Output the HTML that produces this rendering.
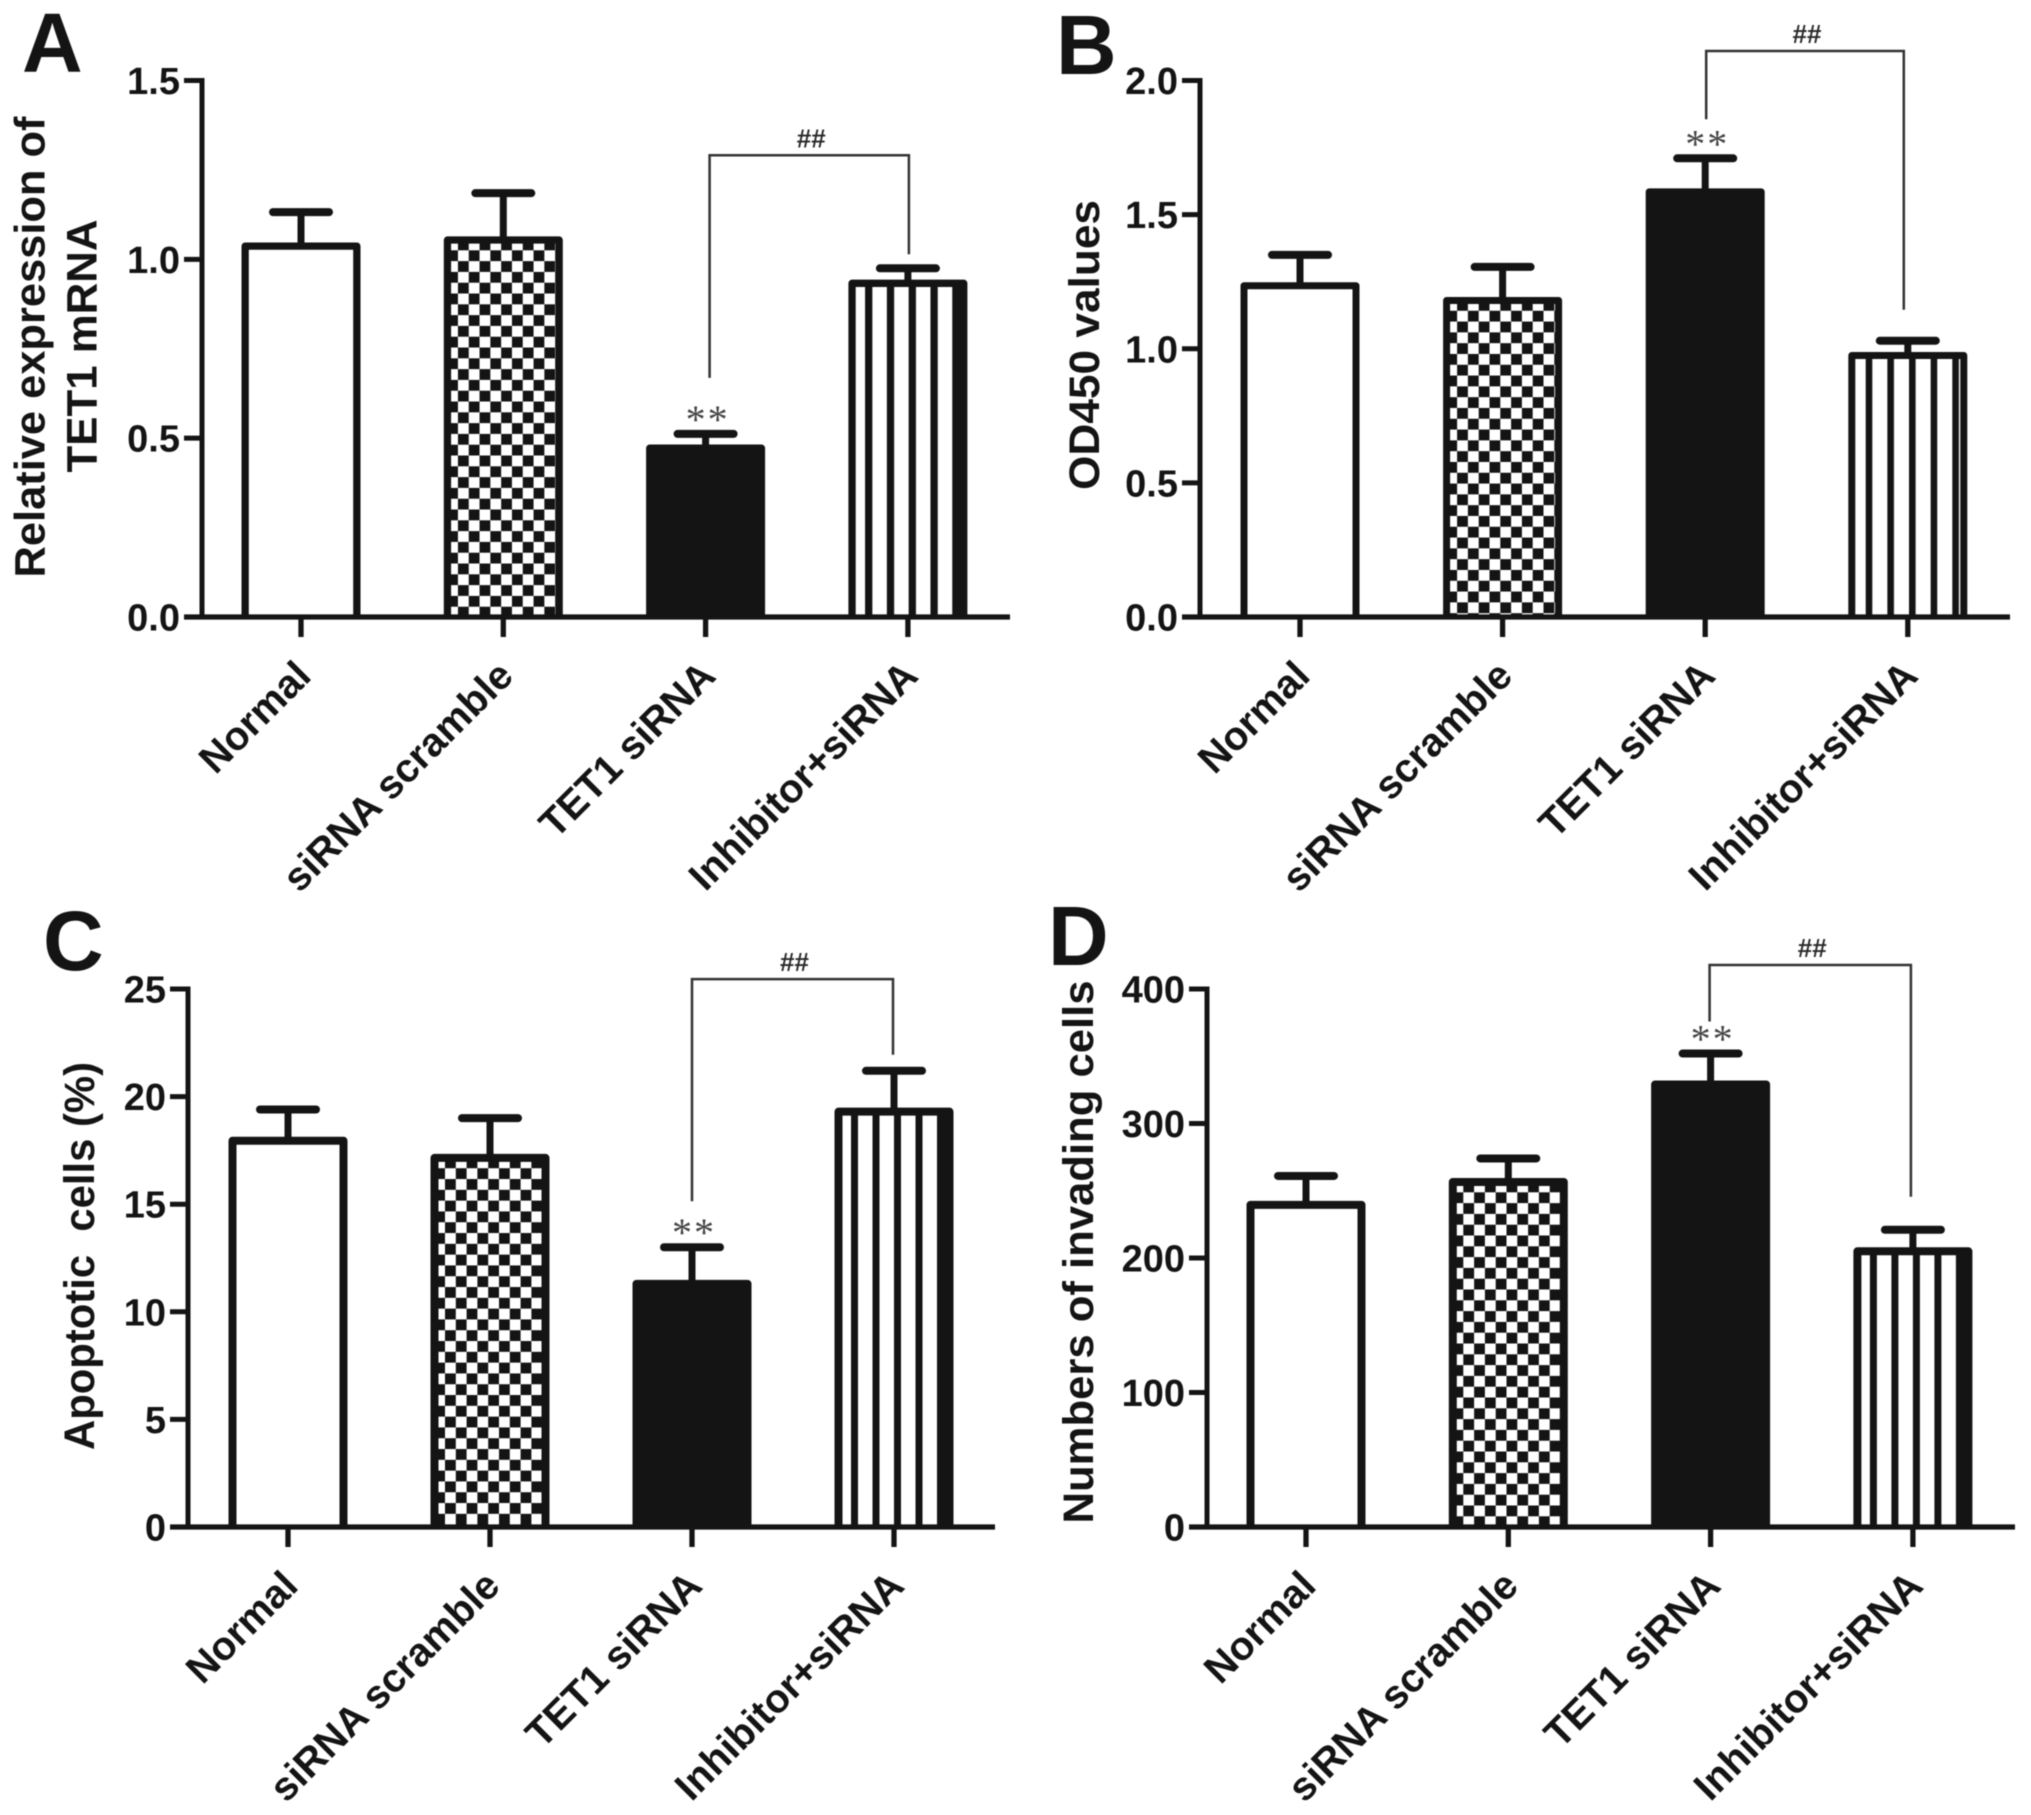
<!DOCTYPE html>
<html>
<head>
<meta charset="utf-8">
<title>TET1 siRNA bar charts</title>
<style>
html,body{margin:0;padding:0;background:#fff;width:2031px;height:1815px;overflow:hidden}
#figure{display:block;filter:blur(0.6px)}
text{font-family:"Liberation Sans",sans-serif;fill:#141414;white-space:pre}
</style>
</head>
<body>
<svg id="figure" xmlns="http://www.w3.org/2000/svg" width="2031" height="1815" viewBox="0 0 2031 1815">
<defs id="defs"></defs>
<rect width="2031" height="1815" fill="#fff"/>
</svg>
<script>
const categories = ['Normal', 'siRNA scramble', 'TET1 siRNA', 'Inhibitor+siRNA'];

const aTicks = ['0.0', '0.5', '1.0', '1.5'];
const aValues = [1.037, 1.054, 0.472, 0.933];
const aErrorTops = [1.132, 1.185, 0.512, 0.975];
const aBracketLevel = [1.291];

const bTicks = ['0.0', '0.5', '1.0', '1.5', '2.0'];
const bValues = [1.235, 1.18, 1.585, 0.975];
const bErrorTops = [1.35, 1.305, 1.71, 1.03];
const bBracketLevel = [2.11];

const cTicks = ['0', '5', '10', '15', '20', '25'];
const cValues = [17.95, 17.15, 11.3, 19.3];
const cErrorTops = [19.4, 19, 13, 21.2];
const cBracketLevel = [25.46];

const dTicks = ['0', '100', '200', '300', '400'];
const dValues = [239.5, 256.5, 329, 205];
const dErrorTops = [261, 274, 352, 221];
const dBracketLevel = [417.8];

const NS = 'http://www.w3.org/2000/svg';
const svg = document.getElementById('figure');
const defs = document.getElementById('defs');
const INK = '#141414';

function make(tag, attrs, parent) {
  const node = document.createElementNS(NS, tag);
  for (const key in attrs) node.setAttribute(key, attrs[key]);
  parent.appendChild(node);
  return node;
}

function drawPanel(cfg, ticks, values, errorTops, bracketLevel) {
  const axisMax = Number(ticks[ticks.length - 1]);
  const yScale = v => cfg.base - (v / axisMax) * (cfg.base - cfg.top);
  const xScale = i => cfg.firstX + i * cfg.step;

  const group = make('g', {}, svg);
  
  

  const letter = make('text', {x: cfg.letterX, y: cfg.letterY, 'font-size': 84, 'font-weight': 700}, group);
  letter.textContent = cfg.id.toUpperCase();
  
  

  cfg.titles.forEach(t => {
    const title = make('text', {
      transform: 'translate(' + t.x + ',' + t.y + ') rotate(-90)',
      'text-anchor': 'middle', 'font-size': 43, 'font-weight': 700,
      textLength: t.len, lengthAdjust: 'spacingAndGlyphs'
    }, group);
    title.textContent = t.text;
    
    
  });

  values.forEach((v, i) => {
    const cx = xScale(i);
    const halfOuter = 59.5;
    const sw = cfg.barStroke;
    const outerLeft = cx - halfOuter;
    const left = outerLeft + sw / 2;
    const right = cx + halfOuter - sw / 2;
    const yTop = yScale(v);

    const stem = make('line', {x1: cx, x2: cx, y1: yScale(errorTops[i]), y2: yTop, stroke: INK, 'stroke-width': 7}, group);
    
    

    const cap = make('line', {x1: cx - 28, x2: cx + 28, y1: yScale(errorTops[i]), y2: yScale(errorTops[i]), stroke: INK, 'stroke-width': 8, 'stroke-linecap': 'round'}, group);
    
    

    let fill = '#fff';
    if (i === 2) fill = INK;
    if (i === 1 || i === 3) {
      const pid = 'pat-' + cfg.id + '-' + i;
      const isCheck = i === 1;
      const period = isCheck ? 21.6 : cfg.stripePeriod;
      const pat = make('pattern', {
        id: pid, patternUnits: 'userSpaceOnUse',
        x: isCheck ? left - 0.3 : outerLeft + cfg.stripeStart - cfg.stripe / 2,
        y: yTop + 10.3,
        width: period, height: 21.6
      }, defs);
      make('rect', {width: period, height: 21.6, fill: '#fff'}, pat);
      if (isCheck) {
        make('rect', {x: 0, y: 0, width: 10.8, height: 10.8, fill: INK}, pat);
        make('rect', {x: 10.8, y: 10.8, width: 10.8, height: 10.8, fill: INK}, pat);
      } else {
        make('rect', {x: 0, y: 0, width: cfg.stripe, height: 21.6, fill: INK}, pat);
      }
      fill = 'url(#' + pid + ')';
    }
    const bar = make('path', {
      d: 'M' + left + ' ' + cfg.base + ' V' + yTop + ' H' + right + ' V' + cfg.base,
      fill: fill, stroke: INK, 'stroke-width': sw, 'stroke-linejoin': 'round'
    }, group);
    
    

    if (i === 3 && cfg.thickEnd) {
      const filler = make('rect', {x: outerLeft + cfg.thickEnd, y: yTop, width: 119 - cfg.thickEnd - sw / 2, height: cfg.base - yTop, fill: INK}, group);
      
      
    }
  });

  const yAxis = make('line', {x1: cfg.axisX, x2: cfg.axisX, y1: cfg.top - 2.5, y2: cfg.base + 2.5, stroke: INK, 'stroke-width': 5}, group);
  
  

  const xAxis = make('line', {x1: cfg.axisX - 18, x2: cfg.axisEnd, y1: cfg.base, y2: cfg.base, stroke: INK, 'stroke-width': 5.3}, group);
  
  

  ticks.forEach(t => {
    const y = yScale(Number(t));
    const mark = make('line', {x1: cfg.axisX - 18, x2: cfg.axisX, y1: y, y2: y, stroke: INK, 'stroke-width': 5}, group);
    
    
    const label = make('text', {x: cfg.axisX - 22, y: y + 13.5, 'text-anchor': 'end', 'font-size': 38, 'font-weight': 700}, group);
    label.textContent = t;
    
    
  });

  categories.forEach((c, i) => {
    const x = xScale(i);
    const mark = make('line', {x1: x, x2: x, y1: cfg.base, y2: cfg.base + 20, stroke: INK, 'stroke-width': 5.3}, group);
    
    
    const label = make('text', {
      transform: 'translate(' + (x + 12) + ',' + (cfg.base + 61) + ') rotate(-45)',
      'text-anchor': 'end', 'font-size': 40, 'font-weight': 700
    }, group);
    label.textContent = c;
    
    
  });

  const bracketY = yScale(bracketLevel[0]);
  const lx = xScale(2) + cfg.bracketLeftShift;
  const rx = xScale(3) + cfg.bracketRightShift;
  const bracket = make('polyline', {
    points: lx + ',' + (yScale(errorTops[2]) - cfg.dropLeft) + ' ' + lx + ',' + bracketY + ' ' + rx + ',' + bracketY + ' ' + rx + ',' + (yScale(errorTops[3]) - cfg.dropRight),
    fill: 'none', stroke: '#333', 'stroke-width': 2.5
  }, group);
  
  

  const hash = make('text', {x: (lx + rx) / 2 + 2, y: bracketY - 8, 'text-anchor': 'middle', 'font-size': 26, 'font-weight': 700}, group);
  hash.textContent = '##';
  
  
  hash.style.fill = '#2a2a2a';

  const star = make('text', {x: xScale(2) + 2, y: yScale(errorTops[2]) - 1, 'text-anchor': 'middle', 'font-size': 40, 'letter-spacing': 2}, group);
  star.textContent = '**';
  
  
  star.style.fontFamily = '"Liberation Serif", serif';
  star.style.fill = '#444';
}

drawPanel({
  id: 'a', top: 80.5, base: 617, axisX: 202, axisEnd: 1010, firstX: 301, step: 202.3,
  barStroke: 7.3, stripe: 7.3, stripePeriod: 21.8, stripeStart: 20.3, thickEnd: 105,
  letterX: 22, letterY: 72,
  bracketLeftShift: 4, bracketRightShift: 1, dropLeft: 56, dropRight: 14,
  titles: [
    {text: 'Relative expression of', x: 44.5, y: 347, len: 461},
    {text: 'TET1 mRNA', x: 96.5, y: 346, len: 253}
  ]
}, aTicks, aValues, aErrorTops, aBracketLevel);

drawPanel({
  id: 'b', top: 80.5, base: 617, axisX: 1200, axisEnd: 2010, firstX: 1300, step: 202.6,
  barStroke: 7, stripe: 6.6, stripePeriod: 21.65, stripeStart: 20.7, thickEnd: 0,
  letterX: 1056, letterY: 74,
  bracketLeftShift: 1, bracketRightShift: -4, dropLeft: 39, dropRight: 31,
  titles: [
    {text: 'OD450 values', x: 1099, y: 345, len: 290}
  ]
}, bTicks, bValues, bErrorTops, bBracketLevel);

drawPanel({
  id: 'c', top: 989, base: 1527, axisX: 188, axisEnd: 995, firstX: 288, step: 202,
  barStroke: 8, stripe: 7, stripePeriod: 21.5, stripeStart: 20, thickEnd: 104,
  letterX: 43, letterY: 970,
  bracketLeftShift: 0, bracketRightShift: -1, dropLeft: 46, dropRight: 16,
  titles: [
    {text: 'Apoptotic  cells (%)', x: 94, y: 1256, len: 388}
  ]
}, cTicks, cValues, cErrorTops, cBracketLevel);

drawPanel({
  id: 'd', top: 989, base: 1527, axisX: 1207, axisEnd: 2015, firstX: 1306, step: 202.3,
  barStroke: 8, stripe: 7, stripePeriod: 21.5, stripeStart: 20, thickEnd: 104,
  letterX: 1048, letterY: 965,
  bracketLeftShift: -1, bracketRightShift: -2, dropLeft: 32, dropRight: 33,
  titles: [
    {text: 'Numbers of invading cells', x: 1093, y: 1252, len: 543}
  ]
}, dTicks, dValues, dErrorTops, dBracketLevel);
</script>
</body>
</html>
